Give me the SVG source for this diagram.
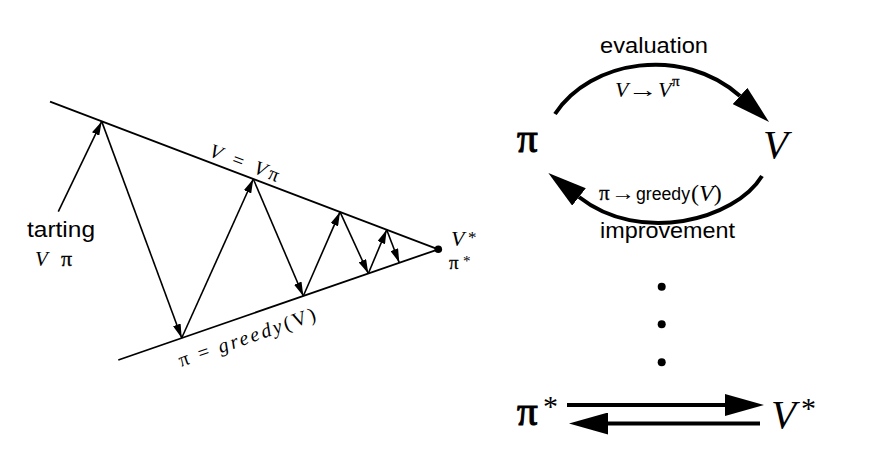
<svg xmlns="http://www.w3.org/2000/svg" width="873" height="472" viewBox="0 0 873 472">
<style>
.ln{stroke:#000;stroke-width:1.8;fill:none}
.ar{stroke:#000;stroke-width:1.6;fill:none;marker-end:url(#sm)}
.big{stroke:#000;stroke-width:4;fill:none;marker-end:url(#bg)}
.serif{font-family:"Liberation Serif","Times New Roman",serif;fill:#000}
.pi{font-family:"Liberation Serif","Times New Roman",serif;fill:#000;stroke:#000;stroke-width:0.3}
.pib{font-family:"Liberation Serif","Times New Roman",serif;fill:#000;stroke:#000;stroke-width:1.1}
.sans{font-family:"Liberation Sans",Arial,sans-serif;fill:#000}
.it{font-style:italic}
</style>
<defs>
<marker id="sm" markerUnits="userSpaceOnUse" viewBox="0 0 14 8" refX="14" refY="4" markerWidth="14" markerHeight="8" orient="auto">
<path d="M0,0 L14,4 L0,8 z" fill="#000"/>
</marker>
<marker id="bg" markerUnits="userSpaceOnUse" viewBox="0 0 39 22" refX="0" refY="11" markerWidth="39" markerHeight="22" orient="auto">
<path d="M0,0 L39,11 L0,22 z" fill="#000"/>
</marker>
</defs>
<rect width="873" height="472" fill="#fff"/>

<g id="left-diagram">
<g id="bounds">
<line class="ln" x1="50" y1="101.7" x2="438.3" y2="249.3"/>
<line class="ln" x1="118.3" y1="360" x2="438.3" y2="249.3"/>
<circle cx="438.3" cy="249.3" r="3.8" fill="#000"/>
</g>
<g id="zigzag">
<line class="ar" x1="58.3" y1="211.7" x2="101.7" y2="121.4"/>
<line class="ar" x1="101.7" y1="121.4" x2="181.7" y2="338"/>
<line class="ar" x1="181.7" y1="338" x2="253.3" y2="179"/>
<line class="ar" x1="253.3" y1="179" x2="303.3" y2="296"/>
<line class="ar" x1="303.3" y1="296" x2="340" y2="211.9"/>
<line class="ar" x1="340" y1="211.9" x2="368.3" y2="273.5"/>
<line class="ar" x1="368.3" y1="273.5" x2="386.7" y2="229.7"/>
<line class="ar" x1="386.7" y1="229.7" x2="399.3" y2="262.8"/>
</g>
<g id="left-labels">
<text class="sans" x="27" y="237" font-size="22" textLength="68" lengthAdjust="spacingAndGlyphs">tarting</text>
<text class="serif it" x="35" y="266" font-size="21">V</text>
<text class="pi" x="61" y="266" font-size="22">π</text>
<text class="serif" font-size="20" letter-spacing="3.5" transform="translate(208,156) rotate(20.8)"><tspan class="it">V</tspan> = <tspan class="it">V</tspan><tspan font-size="20">π</tspan></text>
<text class="serif" font-size="20" letter-spacing="2.6" transform="translate(181,367) rotate(-19.1)"><tspan font-size="20">π</tspan> = <tspan class="it">greedy</tspan>(V)</text>
<text class="serif it" x="451" y="246" font-size="22">V</text>
<text class="serif" x="468" y="243" font-size="17">*</text>
<text class="pi" x="449" y="269" font-size="19">π</text>
<text class="serif" x="463" y="266" font-size="15">*</text>
</g>
</g>

<g id="node-pi">
<text class="pib" x="517" y="152" font-size="41">π</text>
</g>
<g id="node-V">
<text class="serif it" x="763" y="158" font-size="41">V</text>
</g>
<g id="node-pistar">
<text class="pib" x="517" y="425" font-size="41">π</text>
<text class="serif" x="543" y="416" font-size="30">*</text>
</g>
<g id="node-Vstar">
<text class="serif it" x="771" y="428" font-size="41">V</text>
<text class="serif" x="801" y="418" font-size="30">*</text>
</g>

<g id="connectors">
<path class="big" d="M555,114 C590,60 683,45 740,96"/>
<path class="big" d="M762,176 C735,220 640,245 579,197"/>
<path class="big" d="M567,405 H725"/>
<path class="big" d="M760,423.5 H608"/>
</g>

<g id="connector-labels">
<text class="sans" x="600" y="53" font-size="22" textLength="108" lengthAdjust="spacingAndGlyphs">evaluation</text>
<text class="serif it" x="615" y="97" font-size="22">V</text>
<text class="serif" x="628" y="97" font-size="22" textLength="30" lengthAdjust="spacingAndGlyphs">→</text>
<text class="serif it" x="658" y="97" font-size="22">V</text>
<text class="pi" x="672" y="86" font-size="15">π</text>
<text class="pi" x="599" y="200" font-size="21">π</text>
<text class="serif" x="611" y="200" font-size="20" textLength="24" lengthAdjust="spacingAndGlyphs">→</text>
<text class="sans" x="636" y="200" font-size="18" textLength="54" lengthAdjust="spacingAndGlyphs">greedy</text>
<text class="serif" x="691" y="201" font-size="24">(<tspan class="it">V</tspan>)</text>
<text class="sans" x="600" y="238" font-size="22" textLength="135" lengthAdjust="spacingAndGlyphs">improvement</text>
</g>

<g id="dots">
<circle cx="661.7" cy="286.7" r="4" fill="#000"/>
<circle cx="661.7" cy="324.3" r="4" fill="#000"/>
<circle cx="661.7" cy="362.3" r="4" fill="#000"/>
</g>
</svg>
